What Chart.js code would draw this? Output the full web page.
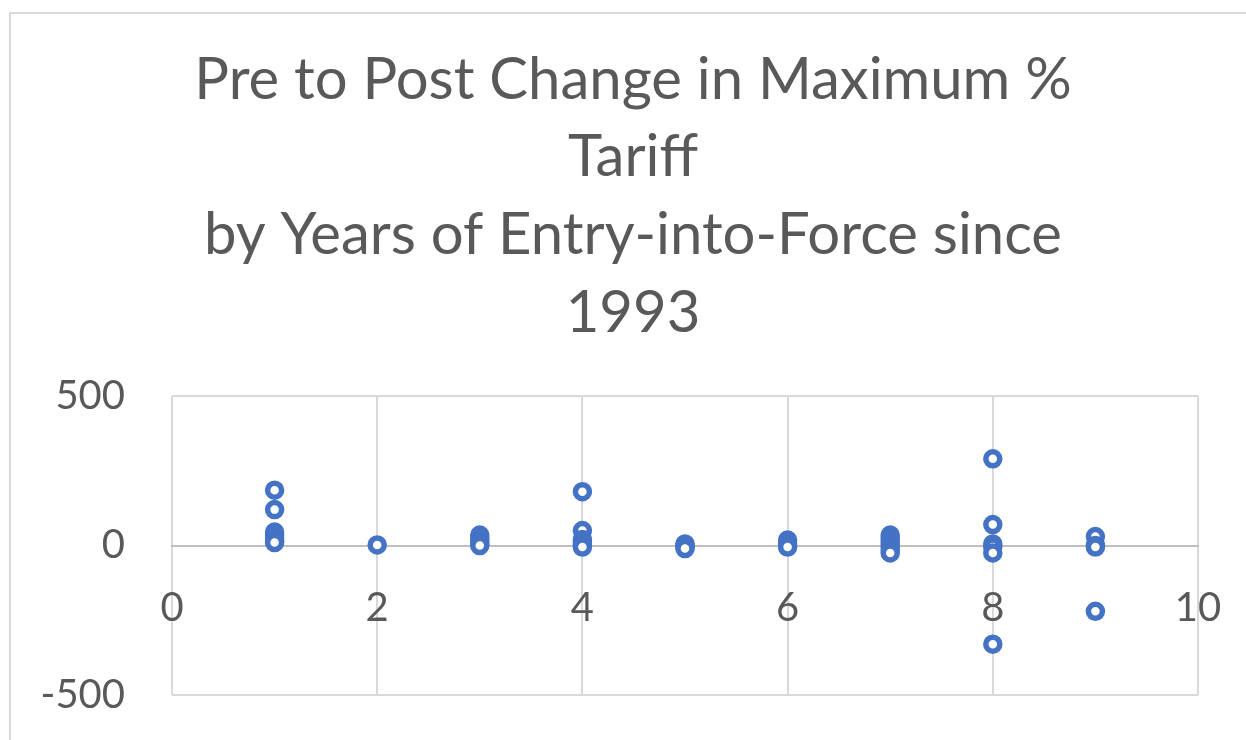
<!DOCTYPE html>
<html>
<head>
<meta charset="utf-8">
<script src="https://cdn.jsdelivr.net/npm/chart.js@4.4.1/dist/chart.umd.min.js"></script>
<style>
    body { margin: 0; background: #ffffff; overflow: hidden; }
    #frame { position: absolute; left: 9px; top: 12px; width: 1400px; height: 900px; border: 2px solid #d9d9d9; }
    #wrap { position: absolute; left: 0; top: 0; width: 1246px; height: 740px; }
</style>
</head>
<body>
<div id="frame"></div>
<div id="wrap"><canvas id="myChart" width="1246" height="740"></canvas></div>
<script>
// Years of entry-into-force (x) and change in max % tariff (y)
const years = [1, 1, 1, 1, 1, 1, 1,
    2,
    3, 3, 3, 3, 3,
    4, 4, 4, 4, 4, 4,
    5, 5, 5, 5,
    6, 6, 6,
    7, 7, 7, 7, 7, 7, 7,
    8, 8, 8, 8, 8, 8,
    9, 9, 9, 9];
const tariffChange = [185, 120, 45, 35, 25, 15, 10,
    2,
    35, 25, 15, 5, 0,
    180, 50, 20, 10, 0, -5,
    5, 0, -5, -10,
    18, 5, -5,
    35, 25, 15, 5, -5, -15, -25,
    290, 70, 5, -5, -25, -330,
    30, 0, -5, -220];
const titleLines = ['Pre to Post Change in Maximum %', 'Tariff', 'by Years of Entry-into-Force since', '1993'];
const xTicks = [0, 2, 4, 6, 8, 10];
const yTicks = [-500, 0, 500];

const points = years.map((x, i) => ({ x: x, y: tariffChange[i] }));

// The chart frame is wider than the window, so the title is centred on it by hand
const titleDraw = {
    id: 'titleDraw',
    afterDraw(chart) {
        const c = chart.ctx;
        c.save();
        c.fillStyle = '#595959';
        c.font = 'normal 58px Lato';
        c.textAlign = 'center';
        c.textBaseline = 'middle';
        titleLines.forEach((line, i) => {
            c.fillText(line, 633, 80 + i * 77.7);
        });
        c.restore();
    }
};

const ctx = document.getElementById('myChart').getContext('2d');
const myChart = new Chart(ctx, {
    type: 'scatter',
    data: {
        datasets: [{
            label: 'Change',
            data: points,
            pointStyle: 'circle',
            pointRadius: 7,
            pointBorderWidth: 5.5,
            borderColor: '#4472c4',
            backgroundColor: '#ffffff'
        }]
    },
    options: {
        responsive: false,
        animation: false,
        layout: {
            padding: { left: 0, right: 48, bottom: 45, top: 396 }
        },
        plugins: {
            legend: { display: false },
            tooltip: { enabled: false },
            title: { display: false }
        },
        scales: {
            x: {
                type: 'linear',
                position: { y: 0 },
                min: xTicks[0],
                max: xTicks[xTicks.length - 1],
                afterBuildTicks: (scale) => { scale.ticks = xTicks.map(v => ({ value: v })); },
                // tick padding would otherwise be added to the side overflow
                afterFit: (scale) => { scale.paddingLeft = 0; scale.paddingRight = 0; },
                grid: { color: '#d9d9d9', lineWidth: 2, drawTicks: false },
                border: { color: '#bfbfbf', width: 2 },
                ticks: {
                    color: '#595959',
                    padding: 39,
                    font: { family: 'Lato', size: 40 }
                }
            },
            y: {
                type: 'linear',
                min: yTicks[0],
                max: yTicks[yTicks.length - 1],
                afterBuildTicks: (scale) => { scale.ticks = yTicks.map(v => ({ value: v })); },
                afterFit: (scale) => {
                    scale.width = 172;
                    scale.paddingTop = 0;
                    scale.paddingBottom = 0;
                },
                grid: { color: '#d9d9d9', lineWidth: 2, drawTicks: false },
                border: { display: false },
                ticks: {
                    color: '#595959',
                    padding: 47,
                    font: { family: 'Lato', size: 40 }
                }
            }
        }
    },
    plugins: [titleDraw]
});
</script>
</body>
</html>
